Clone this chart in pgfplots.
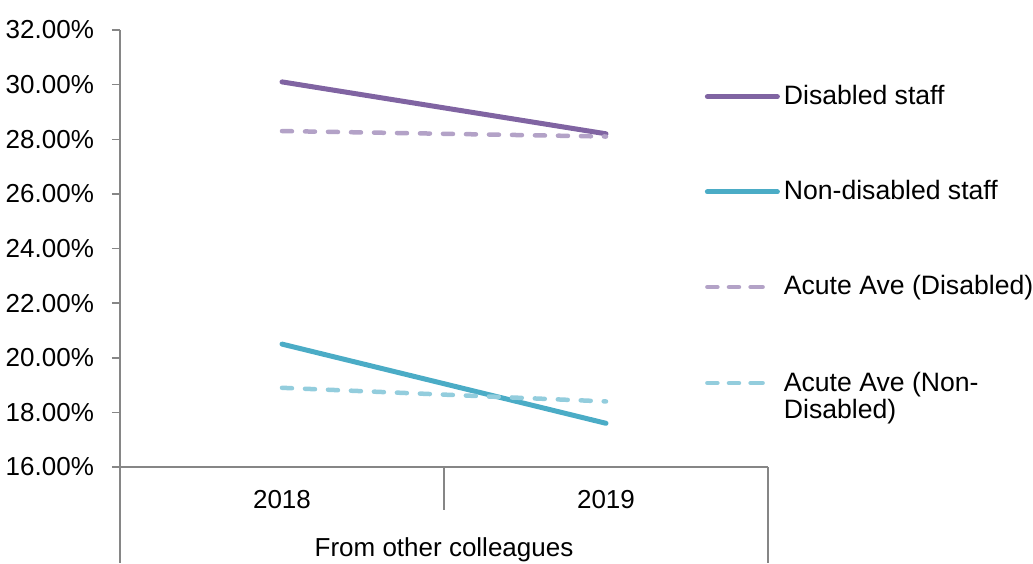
\documentclass[border=0pt]{standalone}
\usepackage{pgfplots}
\pgfplotsset{compat=1.18}
\usepackage{fontspec}
\setmainfont{Liberation Sans}

\definecolor{disab}{HTML}{8064A2}
\definecolor{nondisab}{HTML}{4BACC6}
\definecolor{acutedisab}{HTML}{B3A2C7}
\definecolor{acutenon}{HTML}{93CDDD}
\definecolor{axgray}{HTML}{868686}

\tikzset{
  solidkey/.style={line width=2.5pt, line cap=round},
  dashkey/.style={line width=2.25pt, line cap=round, dash pattern=on 5pt off 6.5pt},
}

\begin{document}
\fontsize{13}{15}\selectfont
\begin{tikzpicture}
\useasboundingbox (-60pt,-48pt) rectangle (456.5pt,233.5pt);
\begin{axis}[
  at={(0,0)}, anchor=south west,
  scale only axis, width=324pt, height=218.5pt,
  xmin=0, xmax=2, ymin=16, ymax=32,
  clip=false,
  axis lines=left,
  axis line style={-, draw=axgray, line width=0.75pt},
  ytick={16,18,...,32},
  tick align=outside,
  major tick length=4pt,
  ytick style={draw=axgray, line width=0.75pt},
  xtick={0.5,1.5},
  xticklabels={2018,2019},
  xtick style={draw=none},
  /pgf/number format/assume math mode=true,
  yticklabel={\pgfmathprintnumber[fixed,fixed zerofill,precision=2]{\tick}\%},
  ticklabel style={font=\fontsize{13}{15}\selectfont},
  yticklabel style={xshift=-4.5pt},
  xticklabel style={anchor=center, yshift=-12.5pt},
  legend cell align=left,
  legend style={draw=none, fill=none, at={(rel axis cs:0.902,0.884)}, anchor=north west,
    inner sep=0pt, row sep=32pt, font=\fontsize{13.3}{15}\selectfont,
    nodes={inner sep=2pt}},
]
\addplot[disab, solidkey, forget plot] coordinates {(0.5,30.1) (1.5,28.2)};
\addplot[nondisab, solidkey, forget plot] coordinates {(0.5,20.5) (1.5,17.6)};
\addplot[acutedisab, dashkey, forget plot] coordinates {(0.5,28.3) (1.5,28.1)};
\addplot[acutenon, dashkey, forget plot] coordinates {(0.5,18.9) (1.5,18.4)};

% legend keys: solid strokes, and dashed keys as three short round-capped strokes
\addlegendimage{legend image code/.code={\draw[disab, solidkey] (0pt,0pt) -- (35pt,0pt);}}
\addlegendentry{Disabled staff}
\addlegendimage{legend image code/.code={\draw[nondisab, solidkey] (0pt,0pt) -- (35pt,0pt);}}
\addlegendentry{Non-disabled staff}
\addlegendimage{legend image code/.code={%
  \draw[acutedisab, line width=2.25pt, line cap=round, solid]
    (0pt,0pt) -- (5pt,0pt) (10.8pt,0pt) -- (15.8pt,0pt) (21.6pt,0pt) -- (27.6pt,0pt);
  \path[draw=none] (0pt,0pt) -- (35pt,0pt);}}
\addlegendentry{Acute Ave (Disabled)}
\addlegendimage{legend image code/.code={%
  \draw[acutenon, line width=2.25pt, line cap=round, solid]
    (0pt,0pt) -- (5pt,0pt) (10.8pt,0pt) -- (15.8pt,0pt) (21.6pt,0pt) -- (27.6pt,0pt);
  \path[draw=none] (0pt,0pt) -- (35pt,0pt);}}
\addlegendentry{\raisebox{0pt}[\height][0pt]{\begin{tabular}[t]{@{}l@{}}Acute Ave (Non-\\[-1.5pt]Disabled)\end{tabular}}}

% category separators of the two-level x axis
\draw[axgray, line width=0.75pt] (axis cs:1,16) -- ([yshift=-21.5pt]axis cs:1,16);
\draw[axgray, line width=0.75pt] (axis cs:0,16) -- ([yshift=-48pt]axis cs:0,16);
\draw[axgray, line width=0.75pt] (axis cs:2,16) -- ([yshift=-48pt]axis cs:2,16);
\node[anchor=center] at ([yshift=-41.5pt]axis cs:1,16) {From other colleagues};
\end{axis}
\end{tikzpicture}
\end{document}
